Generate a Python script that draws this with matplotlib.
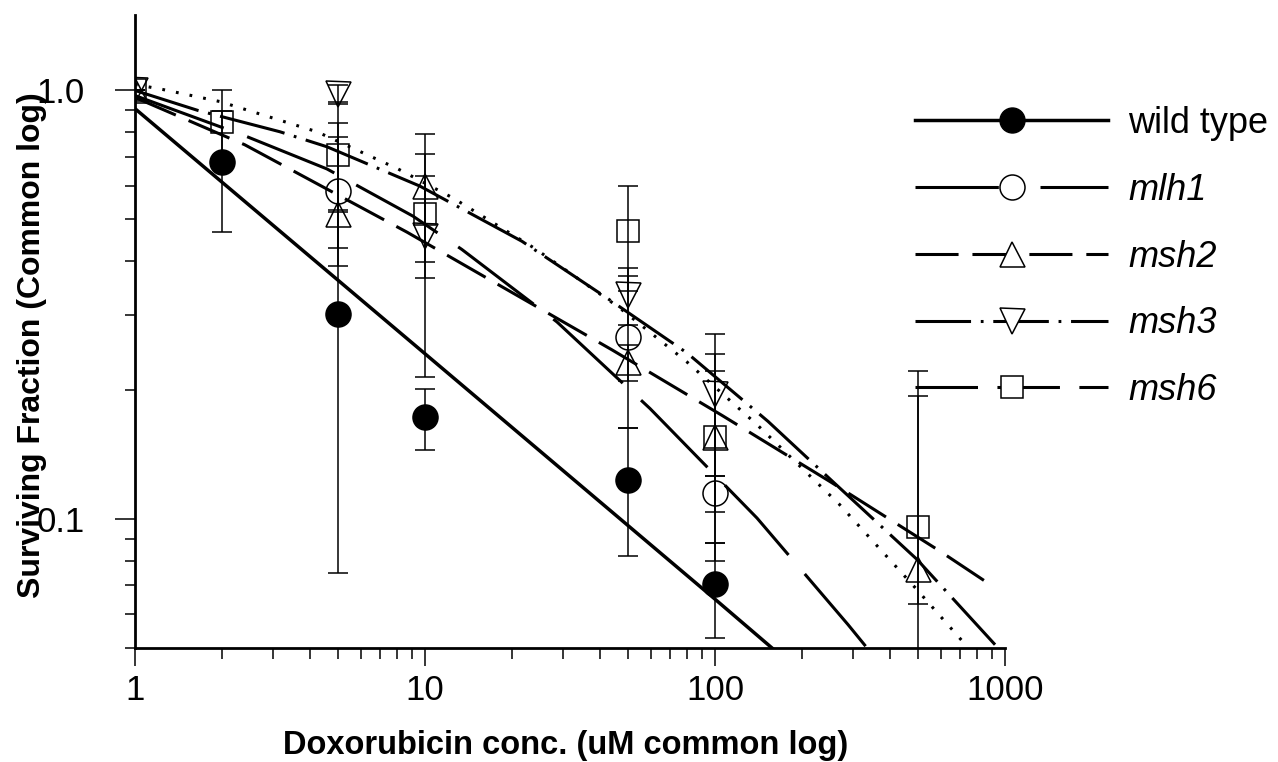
import matplotlib
matplotlib.use("Agg")
import matplotlib.pyplot as plt
from matplotlib.lines import Line2D
from matplotlib.ticker import FixedLocator, FixedFormatter, NullFormatter

plt.rcParams["font.family"] = ["Liberation Sans", "DejaVu Sans"]
plt.rcParams["lines.scale_dashes"] = False

# measured points: dose (uM), surviving fraction, error bar ends
wt_x = [2, 5, 10, 50, 100]
wt_y = [0.681, 0.301, 0.173, 0.123, 0.0705]
wt_lo = [0.467, 0.075, 0.145, 0.082, 0.0527]
wt_hi = [0.895, 0.527, 0.201, 0.163, 0.088]

mlh1_x = [5, 50, 100]
mlh1_y = [0.583, 0.266, 0.115]
mlh1_lo = [0.39, 0.163, 0.104]
mlh1_hi = [0.84, 0.37, 0.126]

msh2_x = [1, 5, 10, 50, 100, 500]
msh2_y = [1.0, 0.514, 0.598, 0.232, 0.155, 0.0763]
msh2_lo = [1.0, 0.428, 0.397, 0.21, 0.08, 0.0633]
msh2_hi = [1.0, 0.777, 0.792, 0.255, 0.243, 0.194]

msh3_x = [1, 5, 10, 50, 100]
msh3_y = [1.0, 0.98, 0.457, 0.334, 0.196]
msh3_lo = [1.0, 0.93, 0.214, 0.284, 0.126]
msh3_hi = [1.0, 1.03, 0.711, 0.386, 0.27]

msh6_x = [1, 2, 5, 10, 50, 100, 500]
msh6_y = [1.0, 0.846, 0.708, 0.514, 0.469, 0.155, 0.096]
msh6_lo = [1.0, 0.70, 0.52, 0.366, 0.34, 0.088, 0.03]
msh6_hi = [1.0, 1.0, 0.94, 0.63, 0.60, 0.221, 0.221]

# fitted curves
wt_fit_x = [1, 10, 100, 160]
wt_fit_y = [0.907, 0.243, 0.065, 0.0495]
mlh1_fit_x = [1, 2.39, 4.59, 9.09, 13.4, 28.5, 59.7, 139.6, 287.5, 337]
mlh1_fit_y = [0.973, 0.784, 0.656, 0.509, 0.4256, 0.2884, 0.181, 0.1005, 0.0567, 0.0497]
msh2_fit_x = [1, 2.39, 5.09, 8.67, 18.4, 44.2, 105.7, 253, 597, 909]
msh2_fit_y = [0.963, 0.747, 0.567, 0.467, 0.3485, 0.248, 0.1745, 0.1215, 0.0841, 0.0696]
msh3_fit_x = [1, 1.65, 3.16, 4.59, 9.61, 21.6, 41.8, 80.1, 152.3, 253, 497, 924]
msh3_fit_y = [1.0, 0.898, 0.801, 0.739, 0.598, 0.4446, 0.330, 0.244, 0.169, 0.1228, 0.0805, 0.0509]
msh6_fit_x = [1, 1.249, 1.963, 4.24, 8.07, 12.5, 23.9, 46.3, 80.1, 139.6, 267.7, 489.5, 716]
msh6_fit_y = [1.033, 1.005, 0.942, 0.801, 0.656, 0.561, 0.428, 0.313, 0.2324, 0.166, 0.1084, 0.0692, 0.0517]

labels = ["wild type", "mlh1", "msh2", "msh3", "msh6"]
x_ticks = [1, 10, 100, 1000]
x_tick_labels = ["1", "10", "100", "1000"]
y_ticks = [0.1, 1.0]
y_tick_labels = ["0.1", "1.0"]

fig = plt.figure(figsize=(12.78, 7.62), dpi=100)
ax = fig.add_axes([135 / 1278, 114 / 762, 870 / 1278, 633 / 762])

series = [
    (wt_x, wt_y, wt_lo, wt_hi, wt_fit_x, wt_fit_y, "o", 18, "black", dict(linestyle="-", lw=2.5)),
    (mlh1_x, mlh1_y, mlh1_lo, mlh1_hi, mlh1_fit_x, mlh1_fit_y, "o", 18, "none", dict(dashes=(68, 18), lw=2.2)),
    (msh2_x, msh2_y, msh2_lo, msh2_hi, msh2_fit_x, msh2_fit_y, "^", 18, "none", dict(dashes=(32, 10), lw=2.2)),
    (msh3_x, msh3_y, msh3_lo, msh3_hi, msh3_fit_x, msh3_fit_y, "v", 18, "none", dict(dashes=(48, 7, 2, 7), lw=2.2)),
    (msh6_x, msh6_y, msh6_lo, msh6_hi, msh6_fit_x, msh6_fit_y, "s", 16, "none", dict(dashes=(2, 8), lw=2.2)),
]

for x, y, lo, hi, fx, fy, mk, ms, fc, style in series:
    ax.plot(fx, fy, color="black", zorder=2, **style)
    yerr = [[v - l for v, l in zip(y, lo)], [h - v for v, h in zip(y, hi)]]
    ax.errorbar(x, y, yerr=yerr, fmt=mk, ms=ms, mfc=fc, mec="black", mew=1.1,
                ecolor="black", elinewidth=1.1, capsize=7, capthick=1.1, zorder=3)

ax.set_xscale("log")
ax.set_yscale("log")
ax.set_xlim(1, 1000)
ax.set_ylim(0.05, 1.5)

ax.xaxis.set_major_locator(FixedLocator(x_ticks))
ax.xaxis.set_major_formatter(FixedFormatter(x_tick_labels))
ax.xaxis.set_minor_locator(FixedLocator([m * d for d in (1, 10, 100) for m in range(2, 10)]))
ax.xaxis.set_minor_formatter(NullFormatter())
ax.yaxis.set_major_locator(FixedLocator(y_ticks))
ax.yaxis.set_major_formatter(FixedFormatter(y_tick_labels))
ax.yaxis.set_minor_locator(FixedLocator([0.05, 0.06, 0.07, 0.08, 0.09] + [m / 10 for m in range(2, 10)]))
ax.yaxis.set_minor_formatter(NullFormatter())

ax.tick_params(axis="x", which="major", length=13, width=1.1, labelsize=25, pad=6)
ax.tick_params(axis="x", which="minor", length=8, width=1.1)
ax.tick_params(axis="y", which="major", length=14.4, width=1.1, labelsize=25, pad=22)
ax.tick_params(axis="y", which="minor", length=7.2, width=1.1)

for side in ("top", "right"):
    ax.spines[side].set_visible(False)
for side in ("left", "bottom"):
    ax.spines[side].set_linewidth(2)

ax.set_xlabel("Doxorubicin conc. (uM common log)", fontsize=23.5, fontweight="bold")
ax.set_ylabel("Surviving Fraction (Common log)", fontsize=23, fontweight="bold")
ax.xaxis.set_label_coords(0.495, -0.13)
ax.yaxis.set_label_coords(-0.101, 0.479)

handles = [
    Line2D([], [], color="black", lw=2.5, marker="o", ms=18, mfc="black", mec="black"),
    Line2D([], [], color="black", lw=2.2, dashes=(60, 30), marker="o", ms=18, mfc="white", mec="black", mew=1.1),
    Line2D([], [], color="black", lw=2.2, dashes=(31, 10), marker="^", ms=18, mfc="white", mec="black", mew=1.1),
    Line2D([], [], color="black", lw=2.2, dashes=(40, 7, 2, 7), marker="v", ms=18, mfc="white", mec="black", mew=1.1),
    Line2D([], [], color="black", lw=2.2, dashes=(45, 14), marker="s", ms=16, mfc="white", mec="black", mew=1.1),
]
leg = fig.legend(handles, labels, loc="upper left", bbox_to_anchor=(915 / 1278, 1 - 106 / 762),
                 frameon=False, fontsize=26, handlelength=5.35, handletextpad=0.55,
                 labelspacing=0.88, borderpad=0, borderaxespad=0)
for t in leg.get_texts()[1:]:
    t.set_style("italic")

fig.savefig("out.png", dpi=100, facecolor="white")
